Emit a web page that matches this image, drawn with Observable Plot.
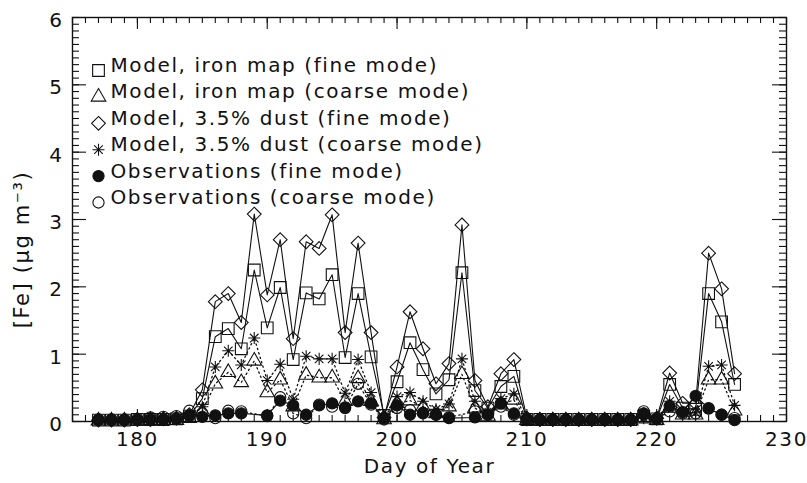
<!DOCTYPE html>
<html>
<head>
<meta charset="utf-8">
<script src="https://cdn.jsdelivr.net/npm/d3@7"></script>
<script src="https://cdn.jsdelivr.net/npm/@observablehq/plot@0.6"></script>
<style>
  html, body { margin: 0; padding: 0; background: #fff; }
  #chart svg { display: block; }
  #chart svg text { letter-spacing: 1.6px; }
</style>
</head>
<body>
<div id="chart"></div>
<script>
// Day of year for each sample
const days = [177,178,179,180,181,182,183,184,185,186,187,188,189,190,191,192,193,194,195,196,
              197,198,199,200,201,202,203,204,205,206,207,208,209,210,211,212,213,214,215,216,
              217,218,219,220,221,222,223,224,225,226];

// Iron concentration, µg m-3
const ironMapFine = [0.02,0.02,0.02,0.03,0.03,0.03,0.04,0.08,0.34,1.26,1.38,1.08,2.25,1.39,1.99,0.92,1.91,1.82,2.18,0.95,
                     1.90,0.96,0.09,0.59,1.17,0.77,0.41,0.62,2.21,0.46,0.20,0.52,0.67,0.03,0.03,0.03,0.03,0.03,0.03,0.03,
                     0.03,0.03,0.08,0.04,0.55,0.20,0.18,1.90,1.48,0.55];
const ironMapCoarse = [0.01,0.01,0.01,0.01,0.02,0.02,0.02,0.05,0.15,0.56,0.73,0.58,0.90,0.43,0.62,0.22,0.69,0.65,0.65,0.30,
                       0.64,0.30,0.03,0.27,0.31,0.22,0.12,0.22,0.70,0.20,0.08,0.25,0.32,0.02,0.01,0.01,0.01,0.01,0.01,0.01,
                       0.01,0.01,0.04,0.02,0.20,0.10,0.10,0.62,0.62,0.16];
const dustFine = [0.02,0.02,0.02,0.03,0.03,0.04,0.05,0.10,0.47,1.78,1.90,1.47,3.08,1.88,2.70,1.23,2.67,2.57,3.07,1.32,
                  2.65,1.32,0.06,0.81,1.63,1.08,0.56,0.86,2.92,0.61,0.22,0.71,0.92,0.05,0.03,0.03,0.03,0.03,0.03,0.03,
                  0.03,0.03,0.10,0.05,0.72,0.27,0.27,2.50,1.97,0.71];
const dustCoarse = [0.02,0.02,0.02,0.02,0.03,0.03,0.03,0.07,0.22,0.81,1.05,0.84,1.24,0.61,0.85,0.33,0.97,0.93,0.93,0.42,
                    0.92,0.43,0.04,0.37,0.43,0.30,0.18,0.26,0.93,0.30,0.11,0.34,0.41,0.03,0.02,0.02,0.02,0.02,0.02,0.02,
                    0.02,0.02,0.05,0.03,0.30,0.14,0.13,0.82,0.84,0.24];
const obsFine = [0.02,0.02,0.02,0.02,0.03,0.03,0.04,0.09,0.07,0.09,0.12,0.12,null,0.09,0.31,0.24,0.10,0.24,0.27,0.21,
                 0.30,0.27,0.05,0.24,0.10,0.13,0.10,0.05,null,0.06,0.10,0.27,0.12,0.04,0.03,0.03,0.03,0.03,0.03,0.03,
                 0.03,0.03,0.12,0.04,0.23,0.14,0.38,0.19,0.10,0.02];
const obsCoarse = [0.03,0.03,0.03,0.04,0.06,0.07,0.08,0.16,0.12,0.05,0.16,0.15,null,0.08,0.36,0.12,0.05,0.25,0.22,0.20,
                   0.56,0.25,0.03,0.20,0.17,0.12,0.10,0.06,null,0.15,0.12,0.22,0.10,0.02,0.02,0.02,0.02,0.02,0.02,0.02,
                   0.02,0.02,0.15,0.04,0.15,0.12,0.12,0.20,0.10,0.05];

const legendLabels = [
  "Model, iron map (fine mode)",
  "Model, iron map (coarse mode)",
  "Model, 3.5% dust (fine mode)",
  "Model, 3.5% dust (coarse mode)",
  "Observations (fine mode)",
  "Observations (coarse mode)"
];
const xTickLabels = [180, 190, 200, 210, 220, 230];
const yTickLabels = [0, 1, 2, 3, 4, 5, 6];

// Eight-armed asterisk (plus and cross overlaid)
const asterisk8 = {
  draw(context, size) {
    const r = Math.sqrt(size) * 0.5;
    const d = r * Math.SQRT1_2;
    context.moveTo(0, -r); context.lineTo(0, r);
    context.moveTo(-r, 0); context.lineTo(r, 0);
    context.moveTo(-d, -d); context.lineTo(d, d);
    context.moveTo(-d, d); context.lineTo(d, -d);
  }
};

const series = [
  {values: ironMapFine,   symbol: "square",   r: 6.6, fill: "none", dash: null},
  {values: ironMapCoarse, symbol: "triangle", r: 5.4, fill: "none", dash: "1.4,3.2"},
  {values: dustFine,      symbol: "diamond2", r: 6.2, fill: "none", dash: null},
  {values: dustCoarse,    symbol: asterisk8,  r: 6.8, fill: "none", dash: "1.4,3.2"},
  {values: obsFine,       symbol: "circle",   r: 5.6, fill: "#111", dash: null},
  {values: obsCoarse,     symbol: "circle",   r: 5.6, fill: "none", dash: "1.4,3.2"}
];

const rowsOf = s => days.map((day, i) => ({day, value: s.values[i]})).filter(d => d.value != null);

const W = 807, H = 483;
const mL = 72, mR = 21, mT = 17, mB = 62;
const innerW = W - mL - mR, innerH = H - mT - mB;
const ink = "#111";
const font = "DejaVu Sans, Verdana, sans-serif";

const marks = [];

// Frame and inward ticks on all four sides
marks.push(Plot.frame({stroke: ink, strokeWidth: 1.4}));
const xMinor = d3.range(175, 231);
const yMinor = d3.range(0, 61).map(v => v / 10);
const xMajorTicks = [175, ...xTickLabels];
marks.push(
  Plot.tickX(xMinor, {x: d => d, insetTop: innerH - 6, stroke: ink, strokeWidth: 1.1}),
  Plot.tickX(xMinor, {x: d => d, insetBottom: innerH - 6, stroke: ink, strokeWidth: 1.1}),
  Plot.tickX(xMajorTicks, {x: d => d, insetTop: innerH - 12, stroke: ink, strokeWidth: 1.1}),
  Plot.tickX(xMajorTicks, {x: d => d, insetBottom: innerH - 12, stroke: ink, strokeWidth: 1.1}),
  Plot.tickY(yMinor, {y: d => d, insetRight: innerW - 7, stroke: ink, strokeWidth: 1.1}),
  Plot.tickY(yMinor, {y: d => d, insetLeft: innerW - 7, stroke: ink, strokeWidth: 1.1}),
  Plot.tickY(yTickLabels, {y: d => d, insetRight: innerW - 14, stroke: ink, strokeWidth: 1.1}),
  Plot.tickY(yTickLabels, {y: d => d, insetLeft: innerW - 14, stroke: ink, strokeWidth: 1.1})
);

// Tick labels and axis titles
marks.push(
  Plot.text(xTickLabels, {x: d => d, frameAnchor: "bottom", dy: 24, text: d => String(d),
    fontSize: 20, fill: ink, fontFamily: font}),
  Plot.text(yTickLabels, {y: d => d, frameAnchor: "left", dx: -9, dy: 3, textAnchor: "end", text: d => String(d),
    fontSize: 20, fill: ink, fontFamily: font}),
  Plot.text(["Day of Year"], {frameAnchor: "bottom", dy: 51, fontSize: 20, fill: ink, fontFamily: font}),
  Plot.text(["[Fe] (\u03bcg m\u207b\u00b3)"], {frameAnchor: "left", textAnchor: "middle", dx: -50, dy: 30,
    rotate: -90, fontSize: 21, fill: ink, fontFamily: font})
);

// Series: connecting lines first, then markers
for (const s of series) {
  marks.push(Plot.line(rowsOf(s), {x: "day", y: "value", stroke: ink, strokeWidth: s.dash ? 1.3 : 1.1,
    strokeDasharray: s.dash ?? undefined}));
}
for (const s of series) {
  marks.push(Plot.dot(rowsOf(s), {x: "day", y: "value", symbol: s.symbol, r: s.r,
    stroke: ink, strokeWidth: 1.1, fill: s.fill}));
}

// Legend in the upper-left corner of the frame
series.forEach((s, i) => {
  marks.push(
    Plot.dot([legendLabels[i]], {frameAnchor: "top-left", dx: 26, dy: 53 + i * 26.4, symbol: s.symbol, r: s.r,
      stroke: ink, strokeWidth: 1.1, fill: s.fill}),
    Plot.text([legendLabels[i]], {frameAnchor: "top-left", dx: 38, dy: 48 + i * 26.4, text: d => d,
      textAnchor: "start", lineAnchor: "middle", fontSize: 20, fill: ink, fontFamily: font})
  );
});

const chart = Plot.plot({
  width: W,
  height: H,
  marginLeft: mL, marginRight: mR, marginTop: mT, marginBottom: mB,
  style: {background: "#fff", fontFamily: font},
  x: {domain: [175, 230], axis: null},
  y: {domain: [0, 6], axis: null},
  marks
});
document.getElementById("chart").appendChild(chart);
</script>
</body>
</html>
